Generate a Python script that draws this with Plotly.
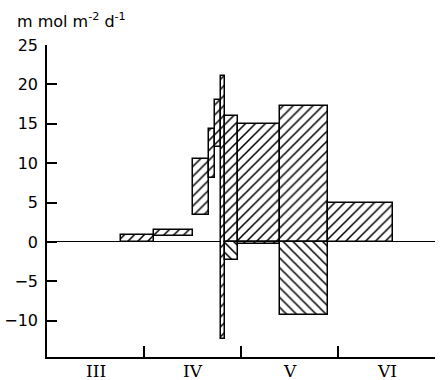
import plotly.graph_objects as go

# Months as fractional x positions (0 = start of March, 1 = start of April, ...)
months = ["III", "IV", "V", "VI"]

# Positive fluxes: period start, period end, lower and upper value (mmol m-2 d-1)
pos_start = [0.76, 1.10, 1.50, 1.67, 1.735, 1.794, 1.840, 1.972, 2.402, 2.894]
pos_end   = [1.10, 1.50, 1.67, 1.735, 1.794, 1.840, 1.972, 2.402, 2.894, 3.564]
pos_low   = [0.0, 0.73, 3.4, 8.1, 12.0, -12.3, 0.0, 0.0, 0.0, 0.0]
pos_high  = [0.9, 1.5, 10.5, 14.35, 18.05, 21.1, 16.0, 15.0, 17.2, 5.0]

# Negative fluxes
neg_start = [1.840, 1.972, 2.402]
neg_end   = [1.972, 2.402, 2.894]
neg_low   = [-2.25, -0.3, -9.3]
neg_high  = [0.0, 0.0, 0.0]

yticks = [-10, -5, 0, 5, 10, 15, 20, 25]
month_bounds = [1, 2, 3]


def bar(start, end, low, high, shape):
    return go.Bar(
        x=[(a + b) / 2 for a, b in zip(start, end)],
        width=[b - a for a, b in zip(start, end)],
        base=low,
        y=[h - l for l, h in zip(low, high)],
        marker=dict(
            color="white",
            line=dict(color="black", width=1.5),
            pattern=dict(shape=shape, fgcolor="black", bgcolor="white",
                         size=7, solidity=0.22, fillmode="replace"),
        ),
        hoverinfo="skip",
        showlegend=False,
    )


fig = go.Figure()
fig.add_trace(bar(pos_start, pos_end, pos_low, pos_high, "/"))
fig.add_trace(bar(neg_start, neg_end, neg_low, neg_high, "\\"))

fig.update_layout(
    width=440, height=380,
    margin=dict(l=47, r=5, t=45, b=23),
    paper_bgcolor="white", plot_bgcolor="white",
    barmode="overlay",
    bargap=0,
    font=dict(family="DejaVu Sans", color="black"),
)

fig.update_xaxes(
    range=[0, 4], showgrid=False, zeroline=False,
    showline=True, linecolor="black", linewidth=1.5,
    tickvals=month_bounds, showticklabels=False,
    ticks="inside", ticklen=11, tickwidth=1.5, tickcolor="black",
)
fig.update_yaxes(
    range=[-14.6, 25], showgrid=False,
    zeroline=True, zerolinecolor="black", zerolinewidth=1,
    showline=True, linecolor="black", linewidth=1.5,
    tickvals=yticks,
    ticks="inside", ticklen=10, tickwidth=1.5, tickcolor="black",
    tickfont=dict(size=16, family="DejaVu Sans"),
    ticklabelstandoff=4,
)

for i, m in enumerate(months):
    fig.add_annotation(
        x=i + 0.5, y=0, xref="x", yref="paper",
        text=m, showarrow=False, yanchor="middle", yshift=-14,
        font=dict(size=17, family="DejaVu Serif", color="black"),
    )

fig.add_annotation(
    x=0, y=1, xref="paper", yref="paper", xanchor="left", yanchor="middle",
    xshift=-32, yshift=25,
    text="m mol m<sup>-2</sup> d<sup>-1</sup>", showarrow=False,
    font=dict(size=16, family="DejaVu Sans", color="black"),
)

fig.write_html("out.html")
